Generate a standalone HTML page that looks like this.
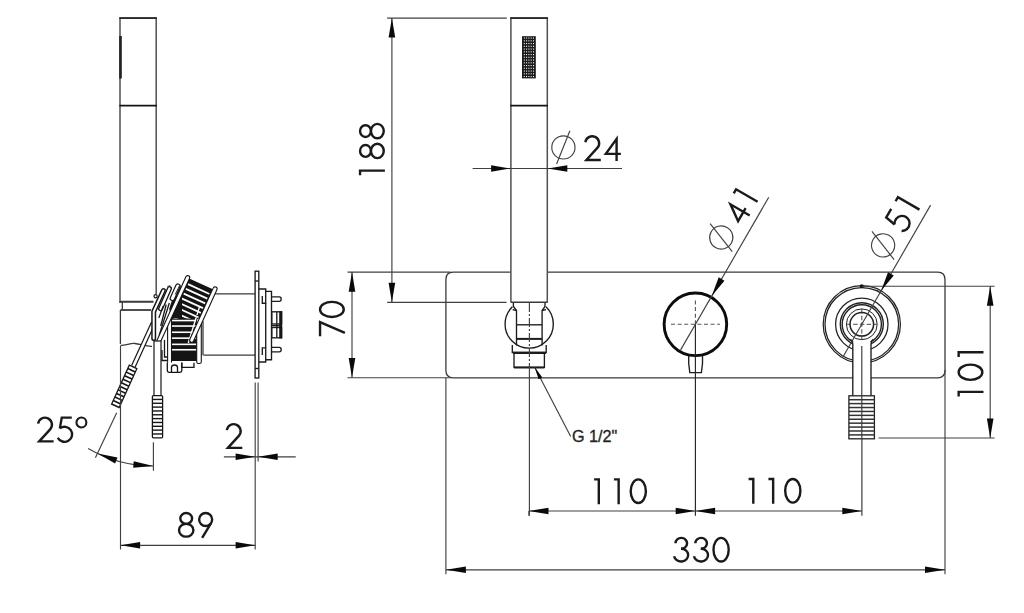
<!DOCTYPE html>
<html><head><meta charset="utf-8"><title>Drawing</title>
<style>
html,body{margin:0;padding:0;background:#fff;}
body{width:1024px;height:613px;overflow:hidden;font-family:"Liberation Sans",sans-serif;}
svg{display:block;}
.o{fill:none;stroke:#3a3a3a;stroke-width:1.3;}
.d{fill:none;stroke:#404040;stroke-width:1.15;}
.h{fill:none;stroke:#505050;stroke-width:1.5;}
.k{fill:none;stroke:#1c1c1c;stroke-width:1.35;}
.a{fill:#0a0a0a;stroke:none;}
.t{fill:none;stroke:#1a1a1a;stroke-width:2.4;stroke-linejoin:miter;}
</style></head><body>
<svg width="1024" height="613" viewBox="0 0 1024 613">
<rect width="1024" height="613" fill="#fff"/>
<path class="h" d="M120,303V18H156.2V294"/>
<path class="o" d="M119.3,18.1H156.9" style="stroke-width:1.8;stroke:#2a2a2a"/>
<path class="o" d="M119.4,105.7H156.8" style="stroke-width:1.8;stroke:#141414"/>
<rect x="119.2" y="36" width="2.6" height="42.5" fill="#222"/>
<path class="o" d="M119.6,301.8H153.5" style="stroke-width:2"/>
<path class="o" d="M122.3,302V310"/>
<path class="o" d="M120.4,310H151" style="stroke-width:1.8"/>
<path class="o" d="M120.4,310V344"/>
<path class="o" d="M120.4,345.3C126,345.5 130,343 135,343.5C140,344 146,346.5 152,346.3"/>
<path class="o" d="M214.5,293.8H255"/>
<path class="o" d="M203.5,355.2H255"/>
<path class="o" d="M203,321V355.2"/>
<rect class="k" x="255.1" y="271.2" width="3.7" height="106.8"/>
<path class="k" d="M255.1,281L258.8,281"/>
<path class="k" d="M255.1,368.5L258.8,368.5"/>
<path class="k" d="M258.8,289H265.7V291.3H271.5V359.7H265.7V362H258.8"/>
<path class="k" d="M265.7,291.3V303.2H262.3V296"/>
<path class="k" d="M265.7,359.7V347.8H262.3V355"/>
<path class="k" d="M265.7,303.2V347.8"/>
<path class="k" d="M271.5,296.8H279.3Q281.2,296.8 281.2,299Q281.2,301.3 279.3,301.3H271.5"/>
<path class="k" d="M271.5,347.3H279.3Q281.2,347.3 281.2,349.5Q281.2,351.8 279.3,351.8H271.5"/>
<rect class="k" x="271.8" y="311.8" width="9.8" height="12.2"/>
<rect class="k" x="271.8" y="327.5" width="9.8" height="10.3"/>
<rect x="279.2" y="311.2" width="3" height="27.2" fill="#161616"/>
<path class="k" d="M276.8,311.8L276.8,337.8"/>
<path class="k" d="M271.8,325.7L282,325.7"/>
<rect x="171" y="316" width="28" height="45" fill="#141414"/>
<rect x="172" y="319.75" width="24.5" height="1.6" fill="#fff"/>
<rect x="172" y="325.25" width="24.5" height="1.6" fill="#fff"/>
<rect x="172" y="331.45" width="24.5" height="1.6" fill="#fff"/>
<rect x="172" y="337.35" width="24.5" height="1.6" fill="#fff"/>
<rect x="172" y="343.55" width="24.5" height="1.6" fill="#fff"/>
<rect x="172" y="348.95" width="24.5" height="1.6" fill="#fff"/>
<clipPath id="ct"><path d="M150,260H230V318.5H165V300Z"/></clipPath>
<g clip-path="url(#ct)">
<path d="M187.6,277.8L214.53,290.07L192.97,337.39L166.04,325.12Z" fill="#141414"/>
<path d="M188.01,284.14L209.48,293.93" stroke="#fff" stroke-width="1.75" fill="none"/>
<path d="M185.85,288.87L207.33,298.66" stroke="#fff" stroke-width="1.75" fill="none"/>
<path d="M183.69,293.6L205.17,303.39" stroke="#fff" stroke-width="1.75" fill="none"/>
<path d="M181.54,298.34L203.01,308.12" stroke="#fff" stroke-width="1.75" fill="none"/>
<path d="M179.38,303.07L200.86,312.85" stroke="#fff" stroke-width="1.75" fill="none"/>
<path d="M177.23,307.8L198.7,317.59" stroke="#fff" stroke-width="1.75" fill="none"/>
<path d="M175.07,312.53L196.54,322.32" stroke="#fff" stroke-width="1.75" fill="none"/>
<path d="M172.91,317.26L194.39,327.05" stroke="#fff" stroke-width="1.75" fill="none"/>
<path d="M170.76,321.99L192.23,331.78" stroke="#fff" stroke-width="1.75" fill="none"/>
</g>
<rect x="167.6" y="286" width="3.9" height="78" rx="1.5" fill="#fff" stroke="#161616" stroke-width="1.1"/>
<rect x="196.7" y="318" width="4.6" height="45.5" rx="1.8" fill="#fff" stroke="#161616" stroke-width="1.1"/>
<path d="M199.6,306.5L188.3,343" stroke="#fff" stroke-width="1.4" stroke-dasharray="9 2.5 30" fill="none"/>
<path d="M215.03,288.98L191.73,340.12" stroke="#161616" stroke-width="5.2" stroke-linecap="round" fill="none"/>
<path d="M215.03,288.98L191.73,340.12" stroke="#fff" stroke-width="3.0" stroke-linecap="round" fill="none"/>
<path d="M133.35,366.36L153.25,322.68" stroke="#161616" stroke-width="5.0" fill="none"/>
<path d="M133.35,366.36L153.25,322.68" stroke="#fff" stroke-width="2.6" fill="none"/>
<path d="M133.35,366.36L115.1,406.4" stroke="#161616" stroke-width="9.6" fill="none"/>
<path d="M133.35,366.36L115.1,406.4" stroke="#fff" stroke-width="7" stroke-dasharray="2.3 1.6" stroke-dashoffset="-1.2" fill="none"/>
<path d="M164,288L178,283L186,281L160,338H153V311Z" fill="#fff"/>
<path d="M172.6,298.2L182,292V318H171.5L169.2,309Z" fill="#161616"/>
<path d="M177.9,286.2L172.4,298.3" stroke="#161616" stroke-width="5.6" stroke-linecap="round" stroke-linejoin="round" fill="none"/>
<path d="M177.9,286.2L172.4,298.3" stroke="#fff" stroke-width="3.2" stroke-linecap="round" stroke-linejoin="round" fill="none"/>
<path d="M175.2,294.5L179.6,285.5" stroke="#161616" stroke-width="0.9" fill="none"/>
<path d="M176.6,295.2L181,286.2" stroke="#161616" stroke-width="0.9" fill="none"/>
<path d="M169.5,288.6L160.6,308.8" stroke="#161616" stroke-width="5.0" stroke-linecap="round" stroke-linejoin="round" fill="none"/>
<path d="M169.5,288.6L160.6,308.8" stroke="#fff" stroke-width="2.4" stroke-linecap="round" stroke-linejoin="round" fill="none"/>
<path d="M169.3,303L159.2,335.5" stroke="#161616" stroke-width="1.3" fill="none"/>
<path d="M166.2,304.5L160.7,326" stroke="#161616" stroke-width="1.3" fill="none"/>
<path d="M163.2,306L158.8,318" stroke="#161616" stroke-width="1.2" fill="none"/>
<path d="M163.4,290.5L153.7,311.6L153.7,338.5" stroke="#161616" stroke-width="5.0" stroke-linecap="round" stroke-linejoin="round" fill="none"/>
<path d="M163.4,290.5L153.7,311.6L153.7,338.5" stroke="#fff" stroke-width="2.0" stroke-linecap="round" stroke-linejoin="round" fill="none"/>
<path d="M187.68,277.62L158.57,341.5" stroke="#161616" stroke-width="5.0" stroke-linecap="round" fill="none"/>
<path d="M187.68,277.62L158.57,341.5" stroke="#fff" stroke-width="2.8" stroke-linecap="round" fill="none"/>
<circle cx="155.6" cy="296.3" r="1.6" fill="#fff" stroke="#161616" stroke-width="1.2"/>
<rect x="154" y="341" width="7" height="55" fill="#fff" stroke="#161616" stroke-width="1.2"/>
<rect x="152.4" y="395.6" width="10.2" height="42.2" rx="1" fill="#fff" stroke="#161616" stroke-width="1.3"/>
<path class="o" d="M152.4,399.44L162.6,399.44" style="stroke:#161616;stroke-width:1.4"/>
<path class="o" d="M152.4,403.27L162.6,403.27" style="stroke:#161616;stroke-width:1.4"/>
<path class="o" d="M152.4,407.11L162.6,407.11" style="stroke:#161616;stroke-width:1.4"/>
<path class="o" d="M152.4,410.95L162.6,410.95" style="stroke:#161616;stroke-width:1.4"/>
<path class="o" d="M152.4,414.78L162.6,414.78" style="stroke:#161616;stroke-width:1.4"/>
<path class="o" d="M152.4,418.62L162.6,418.62" style="stroke:#161616;stroke-width:1.4"/>
<path class="o" d="M152.4,422.45L162.6,422.45" style="stroke:#161616;stroke-width:1.4"/>
<path class="o" d="M152.4,426.29L162.6,426.29" style="stroke:#161616;stroke-width:1.4"/>
<path class="o" d="M152.4,430.13L162.6,430.13" style="stroke:#161616;stroke-width:1.4"/>
<path class="o" d="M152.4,433.96L162.6,433.96" style="stroke:#161616;stroke-width:1.4"/>
<path class="o" d="M167.3,362.5V370.5Q167.3,372.3 169,372.3H180Q181.8,372.3 181.8,370.5V362.5" style="fill:#fff;stroke:#161616"/>
<path class="o" d="M171.5,372V367.5Q171.5,365 174.5,365Q177.5,365 177.5,367.5V372" style="stroke:#161616"/>
<path class="o" d="M181.8,362.8V367.4H194V362.8" style="stroke:#161616"/>
<path class="o" d="M162,350V360.5H167" style="stroke:#161616"/>
<path class="o" d="M164.5,340V357H167.5" style="stroke:#161616"/>
<path class="d" d="M120.5,346L120.5,549.5"/>
<path class="d" d="M255.2,382.4L255.2,549.5"/>
<path class="d" d="M258.1,382.4L258.1,461.5"/>
<path class="d" d="M120.5,545.3L255.2,545.3"/>
<path class="a" d="M120.5,545.3L140.1,542L140.1,548.6Z"/>
<path class="a" d="M255.2,545.3L235.6,548.6L235.6,542Z"/>
<g class="t" transform="translate(176.2,537.8) rotate(0) translate(0,-26)">
<g transform="translate(0,0)"><ellipse cx="10" cy="6.6" rx="5.9" ry="5.45"/><ellipse cx="10" cy="18.45" rx="7.2" ry="6.4"/></g>
<g transform="translate(19.85,0)"><circle cx="9.6" cy="7.7" r="6.5"/><path d="M15.16,11.07L6.1,26"/></g>
</g>
<path class="d" d="M223.9,456.8L295.7,456.8"/>
<path class="a" d="M255.2,456.8L235.6,460.1L235.6,453.5Z"/>
<path class="a" d="M258.1,456.8L277.7,453.5L277.7,460.1Z"/>
<g class="t" transform="translate(224,449) rotate(0) translate(0,-26)">
<g transform="translate(0,0)"><path d="M2.82,7.18A6.95,6.95 0 1 1 14.84,12.83L3.9,24.85H18.3"/></g>
</g>
<path class="d" d="M153.4,442.2L153.4,470.7"/>
<path class="d" d="M116.7,412.8L95.4,457.7"/>
<path class="d" d="M153.4,466A130.6,130.6 0 0 1 88.1,448.5"/>
<path class="a" d="M153.4,466L133.2,467.72L133.72,461.14Z"/>
<path class="a" d="M97.59,453.47L117.48,457.39L115.16,463.57Z"/>
<g class="t" transform="translate(35.3,442.5) rotate(0) translate(0,-26)">
<g transform="translate(0,0)"><path d="M2.82,7.18A6.95,6.95 0 1 1 14.84,12.83L3.9,24.85H18.3"/></g>
<g transform="translate(19.85,0)"><path d="M16.6,1.15H6.6L4.7,11.9"/><path d="M4.7,11.9A7.6,7.5 0 1 1 2.6,21.2"/></g>
<g transform="translate(39.7,0)"><circle cx="6.4" cy="6.0" r="4.95" stroke-width="2.1"/></g>
</g>
<path class="o" d="M510.7,272.1H453.2Q445.9,272.1 445.9,279.40000000000003V370.5Q445.9,377.8 453.2,377.8H853"/>
<path class="o" d="M871,377.8H937.7Q945.0,377.8 945.0,370.5V279.40000000000003Q945.0,272.1 937.7,272.1H547.7"/>
<path class="h" d="M510.9,302.3V18H547.3V302.3"/>
<path class="o" d="M510.2,18.1H548" style="stroke-width:1.8;stroke:#2a2a2a"/>
<path class="o" d="M510.3,105.7H547.9" style="stroke-width:1.8;stroke:#141414"/>
<path class="o" d="M510.7,302.3H547.7" style="stroke-width:1.6"/>
<rect x="522" y="36.2" width="13.8" height="42.2" fill="#1a1a1a"/>
<path d="M524.3,37.5V77.5" stroke="#fff" stroke-width="1.0" stroke-dasharray="1.15 1.6" fill="none"/>
<path d="M526.6,37.5V77.5" stroke="#fff" stroke-width="1.0" stroke-dasharray="1.15 1.6" fill="none"/>
<path d="M528.9,37.5V77.5" stroke="#fff" stroke-width="1.0" stroke-dasharray="1.15 1.6" fill="none"/>
<path d="M531.2,37.5V77.5" stroke="#fff" stroke-width="1.0" stroke-dasharray="1.15 1.6" fill="none"/>
<path d="M533.5,37.5V77.5" stroke="#fff" stroke-width="1.0" stroke-dasharray="1.15 1.6" fill="none"/>
<path class="k" d="M546,306.82A24.1,24.1 0 1 1 512.4,306.82"/>
<path class="k" d="M513.4,303V306.5L516.5,310.5V345.6"/>
<path class="k" d="M545,303V306.5L542.1,310.5V345.6"/>
<path class="k" d="M512.6,309.6L516.5,310.5"/>
<path class="k" d="M546,309.6L542.1,310.5"/>
<path class="k" d="M516.5,324.8L542.1,324.8"/>
<path class="k" d="M516.5,338.9L542.1,338.9" style="stroke-width:2"/>
<path class="k" d="M512.3,345V352.5H546.2V345"/>
<path class="k" d="M513,352.8L546,352.8" style="stroke-width:2.2"/>
<path class="k" d="M514,353V367.3H544.4V353"/>
<path class="k" d="M514,367.5L544.4,367.5" style="stroke-width:2"/>
<path class="d" d="M529.4,303V368" stroke-dasharray="9 2 2 2"/>
<path class="d" d="M529.4,368L529.4,515.7"/>
<circle cx="695.4" cy="324.3" r="31.3" fill="none" stroke="#0c0c0c" stroke-width="2.9"/>
<path d="M671,324.3H720" stroke="#555" stroke-width="1.1" stroke-dasharray="4 2.6" fill="none"/>
<path d="M695.4,300.5V324.3" stroke="#555" stroke-width="1.1" stroke-dasharray="4 2.6" fill="none"/>
<path class="k" d="M688.7,356V363.5L689.8,372.6H701.4L702.5,363.5V356"/>
<path class="d" d="M695.4,324.3L695.4,515.7" style="stroke:#222"/>
<g transform="translate(695.4,324.3) rotate(-60)">
<path class="d" d="M-29.5,0H146.7"/>
</g>
<path class="a" d="M711.75,295.98L718.69,277.36L724.41,280.66Z"/>
<g transform="translate(721.26,237.5) rotate(-60)"><circle class="d" r="11.6" cx="0" cy="0"/><path class="d" d="M6.5,-16.6L-6.8,16.6"/></g>
<g class="t" transform="translate(742.59,227.76) rotate(-60) translate(0,-26)">
<g transform="translate(0,0)"><path d="M14.25,26V3.8L3.5,18.8H18.5" stroke-miterlimit="10"/></g>
<g transform="translate(19.85,0)"><path d="M5.5,1.15H10.2V26"/></g>
</g>
<circle cx="861.8" cy="324.3" r="38.6" fill="none" stroke="#222" stroke-width="1.25"/>
<circle cx="861.8" cy="324.3" r="36.8" fill="none" stroke="#222" stroke-width="1.25"/>
<circle cx="861.8" cy="324.3" r="26.2" fill="none" stroke="#222" stroke-width="1.25"/>
<circle cx="861.8" cy="324.3" r="21.5" fill="none" stroke="#222" stroke-width="1.4"/>
<circle cx="861.8" cy="324.3" r="19.6" fill="none" stroke="#222" stroke-width="1.4"/>
<circle cx="861.8" cy="324.3" r="15.4" fill="none" stroke="#222" stroke-width="1.0"/>
<circle cx="861.8" cy="324.3" r="11.8" fill="none" stroke="#222" stroke-width="1.5"/>
<path d="M852.8,396V343.5Q852.8,340.5 856,340.2L867.8,340.2Q871,340.5 871,343.5V396Z" fill="#fff" stroke="none"/>
<path class="k" d="M852.8,395.7V344Q852.8,341 850.5,339.3"/>
<path class="k" d="M871,395.7V344Q871,341 873.3,339.3"/>
<path class="d" d="M861.8,346L861.8,396" style="stroke:#3a3a3a;stroke-width:1.15"/>
<path d="M846.5,324.3H877" stroke="#333" stroke-width="0.9" stroke-dasharray="4.5 2.2" fill="none"/>
<path d="M861.8,309V339.5" stroke="#333" stroke-width="0.9" stroke-dasharray="4.5 2.2" fill="none"/>
<rect x="848.9" y="395.8" width="25.5" height="43" fill="#fff" stroke="#222" stroke-width="1.3"/>
<path class="o" d="M848.9,399.71L874.4,399.71" style="stroke:#333;stroke-width:1.5"/>
<path class="o" d="M848.9,403.62L874.4,403.62" style="stroke:#333;stroke-width:1.5"/>
<path class="o" d="M848.9,407.53L874.4,407.53" style="stroke:#333;stroke-width:1.5"/>
<path class="o" d="M848.9,411.44L874.4,411.44" style="stroke:#333;stroke-width:1.5"/>
<path class="o" d="M848.9,415.35L874.4,415.35" style="stroke:#333;stroke-width:1.5"/>
<path class="o" d="M848.9,419.25L874.4,419.25" style="stroke:#333;stroke-width:1.5"/>
<path class="o" d="M848.9,423.16L874.4,423.16" style="stroke:#333;stroke-width:1.5"/>
<path class="o" d="M848.9,427.07L874.4,427.07" style="stroke:#333;stroke-width:1.5"/>
<path class="o" d="M848.9,430.98L874.4,430.98" style="stroke:#333;stroke-width:1.5"/>
<path class="o" d="M848.9,434.89L874.4,434.89" style="stroke:#333;stroke-width:1.5"/>
<path class="d" d="M861.9,439L861.9,515.7" style="stroke:#333"/>
<path class="d" d="M861.8,396L861.8,439" style="stroke:#3a3a3a;stroke-width:1.15"/>
<circle cx="861.8" cy="286.2" r="2" fill="#111"/>
<path class="d" d="M861.8,286.2L994.6,286.2"/>
<g transform="translate(861.8,324.3) rotate(-60)">
<path class="d" d="M0,0H137.6"/>
</g>
<path class="a" d="M881.1,290.87L888.04,272.25L893.76,275.55Z"/>
<g transform="translate(883.11,245.38) rotate(-60)"><circle class="d" r="11.6" cx="0" cy="0"/><path class="d" d="M6.5,-16.6L-6.8,16.6"/></g>
<g class="t" transform="translate(904.44,235.64) rotate(-60) translate(0,-26)">
<g transform="translate(0,0)"><path d="M16.6,1.15H6.6L4.7,11.9"/><path d="M4.7,11.9A7.6,7.5 0 1 1 2.6,21.2"/></g>
<g transform="translate(19.85,0)"><path d="M5.5,1.15H10.2V26"/></g>
</g>
<path class="d" d="M861.8,324.3L843.35,356.26"/>
<path class="d" d="M387.2,18.1L506.8,18.1"/>
<path class="d" d="M387.2,302.3L506.6,302.3"/>
<path class="d" d="M391.9,18L391.9,302.3"/>
<path class="a" d="M391.9,18L395.2,37.6L388.6,37.6Z"/>
<path class="a" d="M391.9,302.3L388.6,282.7L395.2,282.7Z"/>
<g class="t" transform="translate(384.9,180.8) rotate(-90) translate(0,-26)">
<g transform="translate(0,0)"><path d="M5.5,1.15H10.2V26"/></g>
<g transform="translate(19.85,0)"><ellipse cx="10" cy="6.6" rx="5.9" ry="5.45"/><ellipse cx="10" cy="18.45" rx="7.2" ry="6.4"/></g>
<g transform="translate(39.7,0)"><ellipse cx="10" cy="6.6" rx="5.9" ry="5.45"/><ellipse cx="10" cy="18.45" rx="7.2" ry="6.4"/></g>
</g>
<path class="d" d="M347.5,272.1L450.5,272.1"/>
<path class="d" d="M347.5,377.7L450.5,377.7"/>
<path class="d" d="M352,272.1L352,377.6"/>
<path class="a" d="M352,272.1L355.3,291.7L348.7,291.7Z"/>
<path class="a" d="M352,377.6L348.7,358L355.3,358Z"/>
<g class="t" transform="translate(344.9,339.3) rotate(-90) translate(0,-26)">
<g transform="translate(0,0)"><path d="M3.1,1.15H17.2L6.4,26"/></g>
<g transform="translate(19.85,0)"><ellipse cx="10" cy="13" rx="7.6" ry="11.85"/></g>
</g>
<path class="d" d="M472.6,168.5L622,168.5"/>
<path class="a" d="M510.7,168.5L491.1,171.8L491.1,165.2Z"/>
<path class="a" d="M547.7,168.5L567.3,165.2L567.3,171.8Z"/>
<g transform="translate(563.4,147.4) rotate(0)"><circle class="d" r="11.6" cx="0" cy="0"/><path class="d" d="M6.5,-16.6L-6.8,16.6"/></g>
<g class="t" transform="translate(582.5,161.1) rotate(0) translate(0,-26)">
<g transform="translate(0,0)"><path d="M2.82,7.18A6.95,6.95 0 1 1 14.84,12.83L3.9,24.85H18.3"/></g>
<g transform="translate(19.85,0)"><path d="M14.25,26V3.8L3.5,18.8H18.5" stroke-miterlimit="10"/></g>
</g>
<path class="d" d="M878.6,438L994.6,438"/>
<path class="d" d="M990.2,286.2L990.2,438"/>
<path class="a" d="M990.2,286.2L993.5,305.8L986.9,305.8Z"/>
<path class="a" d="M990.2,438L986.9,418.4L993.5,418.4Z"/>
<g class="t" transform="translate(983.5,402.1) rotate(-90) translate(0,-26)">
<g transform="translate(0,0)"><path d="M5.5,1.15H10.2V26"/></g>
<g transform="translate(19.85,0)"><ellipse cx="10" cy="13" rx="7.6" ry="11.85"/></g>
<g transform="translate(39.7,0)"><path d="M5.5,1.15H10.2V26"/></g>
</g>
<path class="d" d="M528.9,511L861.9,511"/>
<path class="a" d="M528.9,511L548.5,507.7L548.5,514.3Z"/>
<path class="a" d="M695.3,511L675.7,514.3L675.7,507.7Z"/>
<path class="a" d="M695.5,511L715.1,507.7L715.1,514.3Z"/>
<path class="a" d="M861.9,511L842.3,514.3L842.3,507.7Z"/>
<path class="d" d="M528.9,511L528.9,515.7"/>
<g class="t" transform="translate(588.6,504.2) rotate(0) translate(0,-26)">
<g transform="translate(0,0)"><path d="M5.5,1.15H10.2V26"/></g>
<g transform="translate(19.85,0)"><path d="M5.5,1.15H10.2V26"/></g>
<g transform="translate(39.7,0)"><ellipse cx="10" cy="13" rx="7.6" ry="11.85"/></g>
</g>
<g class="t" transform="translate(743.1,503.8) rotate(0) translate(0,-26)">
<g transform="translate(0,0)"><path d="M5.5,1.15H10.2V26"/></g>
<g transform="translate(19.85,0)"><path d="M5.5,1.15H10.2V26"/></g>
<g transform="translate(39.7,0)"><ellipse cx="10" cy="13" rx="7.6" ry="11.85"/></g>
</g>
<path class="d" d="M445.9,377.8L445.9,574.3"/>
<path class="d" d="M945,370L945,574.3"/>
<path class="d" d="M445.9,569.8L945,569.8"/>
<path class="a" d="M445.9,569.8L465.9,566.5L465.9,573.1Z"/>
<path class="a" d="M945,569.8L925,573.1L925,566.5Z"/>
<g class="t" transform="translate(671.4,562.7) rotate(0) translate(0,-26)">
<g transform="translate(0,0)"><path d="M4.1,6.6A5.8,5.45 0 1 1 9.6,12.05"/><path d="M9.6,12.05A7.1,6.4 0 1 1 2.7,19.6"/></g>
<g transform="translate(19.85,0)"><path d="M4.1,6.6A5.8,5.45 0 1 1 9.6,12.05"/><path d="M9.6,12.05A7.1,6.4 0 1 1 2.7,19.6"/></g>
<g transform="translate(39.7,0)"><ellipse cx="10" cy="13" rx="7.6" ry="11.85"/></g>
</g>
<path class="d" d="M534.7,367.3L570.7,436.4"/>
<path class="a" d="M534.7,367.3L542.34,377.42L538.61,379.36Z"/>
<text x="572" y="442.2" font-family="Liberation Sans, sans-serif" font-size="16.2" fill="#222" stroke="#222" stroke-width="0.3">G 1/2"</text>
</svg>
</body></html>
